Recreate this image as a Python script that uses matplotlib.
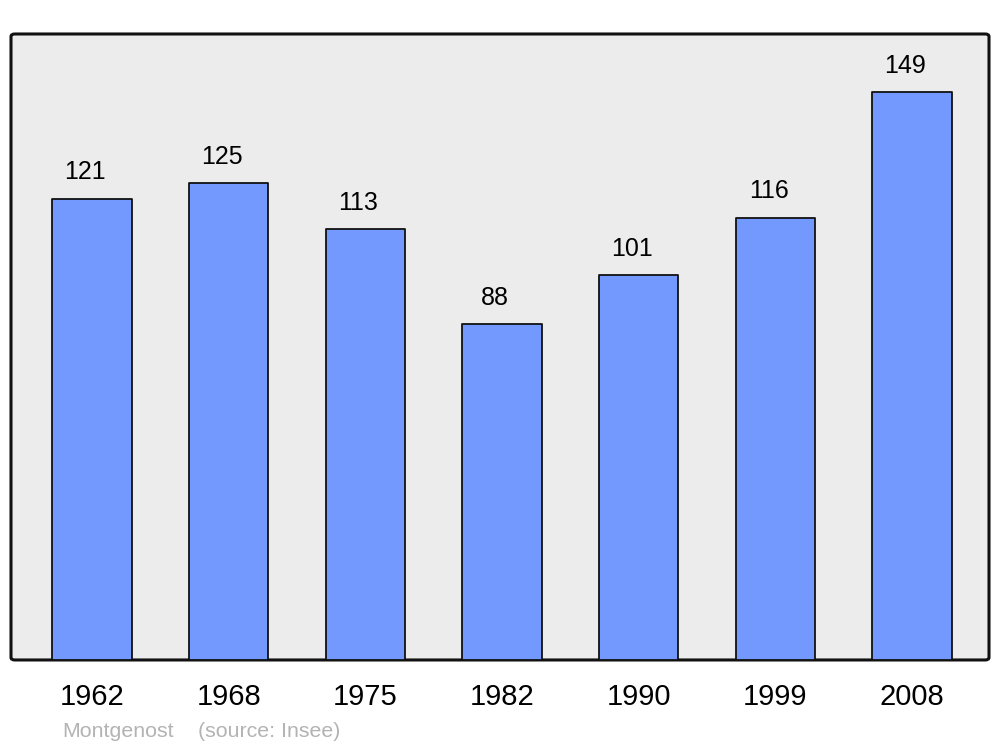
import matplotlib
matplotlib.use("Agg")
import matplotlib.pyplot as plt
from matplotlib.patches import FancyBboxPatch

# population par recensement
annees = ["1962", "1968", "1975", "1982", "1990", "1999", "2008"]
population = [121, 125, 113, 88, 101, 116, 149]

plt.rcParams['font.family'] = ['Liberation Sans', 'DejaVu Sans']

fig = plt.figure(figsize=(10, 7.47), dpi=100)
ax = fig.add_axes([0.011, 0.1165, 0.978, 0.838])
ax.patch.set_visible(False)

# cadre gris aux coins arrondis
cadre = FancyBboxPatch((0, 0), 1, 1, boxstyle="round,pad=0,rounding_size=0.004",
                       transform=ax.transAxes, facecolor="#ececec",
                       edgecolor="#111111", linewidth=2.2, clip_on=False, zorder=0)
ax.add_patch(cadre)

x = range(len(annees))
ax.bar(x, population, width=0.58, color="#7399ff", edgecolor="#111111",
       linewidth=1.3, joinstyle="round", zorder=2)

for i, v in zip(x, population):
    ax.text(i - 0.05, v + 6.9, str(v), ha="center", va="center", fontsize=18, zorder=3)

ax.set_xlim(-0.593, 6.563)
ax.set_ylim(0, 164.2)
ax.set_xticks(list(x))
ax.set_xticklabels(annees, fontsize=21)
ax.tick_params(axis="x", length=0, pad=16.5)
ax.set_yticks([])
for s in ax.spines.values():
    s.set_visible(False)

fig.text(0.062, 0.021, "Montgenost", color="#b3b3b3", fontsize=15.4, va="center")
fig.text(0.198, 0.021, "(source: Insee)", color="#b3b3b3", fontsize=15.4, va="center")

fig.savefig("out.png", dpi=100)
